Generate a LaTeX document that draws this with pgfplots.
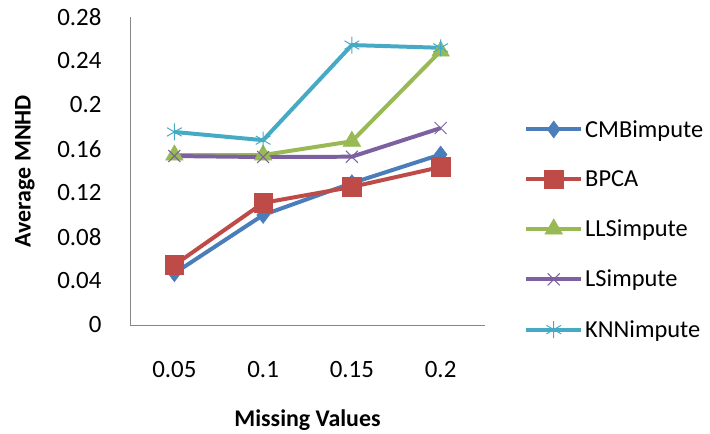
\documentclass[border=0pt]{standalone}
\usepackage{pgfplots}
\pgfplotsset{compat=1.18}
\usepackage{fontspec}
\setmainfont{Carlito}
\definecolor{cmb}{HTML}{4A7EBB}
\definecolor{bpca}{HTML}{BE4B48}
\definecolor{lls}{HTML}{98B954}
\definecolor{ls}{HTML}{7D60A0}
\definecolor{knn}{HTML}{46AAC5}
\definecolor{axg}{HTML}{868686}
\begin{document}
\begin{tikzpicture}
\begin{axis}[
  scale only axis, width=355bp, height=308bp,
  xmin=-0.5, xmax=3.5, ymin=0, ymax=0.28,
  xtick={0,1,2,3}, xticklabels={0.05,0.1,0.15,0.2},
  ytick={0,0.04,0.08,0.12,0.16,0.2,0.24,0.28},
  yticklabels={0,0.04,0.08,0.12,0.16,0.2,0.24,0.28},
  axis lines=left, axis line style={axg, line width=1pt, -},
  major tick length=0pt,
  tick label style={font=\fontsize{25}{28}\selectfont},
  yticklabel style={xshift=-25bp},
  xticklabel style={yshift=-33bp},
  /pgf/number format/assume math mode=true,
  xlabel={\textbf{Missing Values}},
  ylabel={\textbf{Average MNHD}},
  label style={font=\fontsize{24}{27}\selectfont},
  xlabel style={at={(axis description cs:0.5,-0.308)}, anchor=center},
  ylabel style={at={(axis description cs:-0.296,0.5)}, anchor=center},
  legend style={draw=none, at={(1.11,0.31)}, anchor=west, font=\fontsize{24.5}{27}\selectfont,
    row sep=28bp, inner sep=0pt},
  legend cell align=left,
  legend image code/.code={
    \draw[#1, mark=none] (0bp,0bp) -- (55bp,0bp);
    \draw[#1, only marks] plot coordinates {(27.5bp,0bp)};
  },
  every axis plot/.append style={line width=4pt, mark size=8.5bp},
]
\addplot[cmb, mark=diamond*, mark options={solid, fill=cmb, line width=0.5pt}] coordinates {(0,0.047) (1,0.100) (2,0.129) (3,0.155)};
\addlegendentry{CMBimpute}
\addplot[bpca, mark=square*, mark options={solid, fill=bpca, line width=0.5pt, scale=1.1}] coordinates {(0,0.0545) (1,0.111) (2,0.1255) (3,0.1436)};
\addlegendentry{BPCA}
\addplot[lls, mark=triangle*, mark options={solid, fill=lls, line width=0.5pt, scale=1.2}] coordinates {(0,0.1545) (1,0.1545) (2,0.167) (3,0.249)};
\addlegendentry{LLSimpute}
\addplot[ls, mark=x, mark options={solid, line width=1pt}] coordinates {(0,0.1536) (1,0.1527) (2,0.153) (3,0.179)};
\addlegendentry{LSimpute}
\addplot[knn, mark=asterisk, mark options={solid, line width=1pt}] coordinates {(0,0.1755) (1,0.168) (2,0.2545) (3,0.252)};
\addlegendentry{KNNimpute}
\end{axis}
\pgfresetboundingbox
\path (current axis.south west) ++(-130bp,-109bp) rectangle ++(710bp,434bp);
\end{tikzpicture}
\end{document}
